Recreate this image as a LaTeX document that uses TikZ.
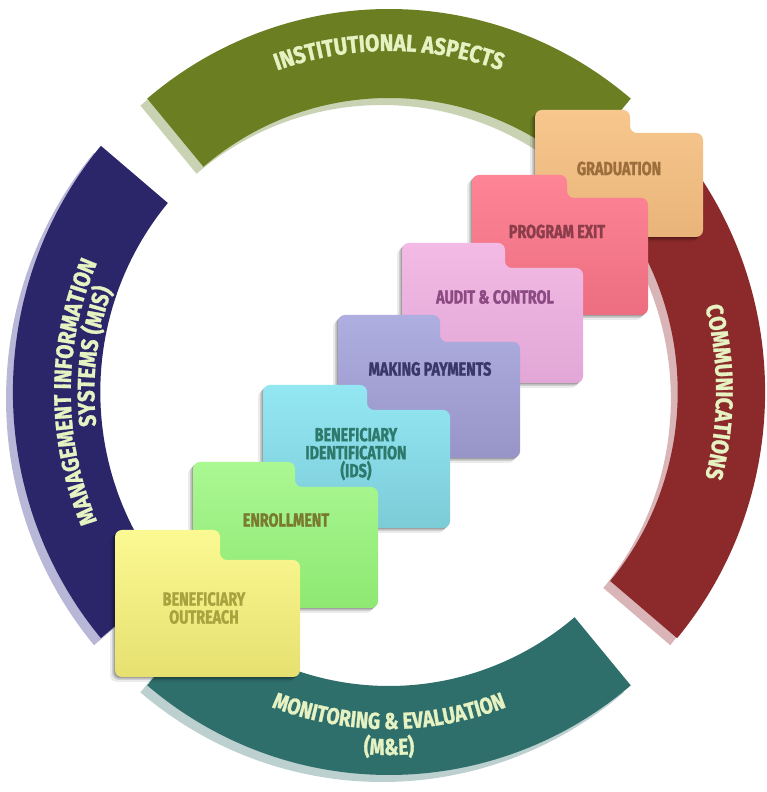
\documentclass[tikz,border=0pt]{standalone}
\usepackage{fontspec}
\usetikzlibrary{decorations.text}
\newfontfamily\bandfont{Fira Sans}[FakeStretch=0.86,FakeBold=1.2]
\newfontfamily\bandfontb{Fira Sans}[FakeStretch=0.82,FakeBold=1.2]
\newfontfamily\folderfont{Fira Sans}[FakeStretch=0.755,FakeBold=1.4]
\definecolor{bandtxt}{HTML}{E6F2C2}
\definecolor{instc}{HTML}{6B7F22}
\definecolor{instsh}{HTML}{C9D3B3}
\definecolor{misc}{HTML}{2B2569}
\definecolor{missh}{HTML}{B9B7D7}
\definecolor{comc}{HTML}{8C2A2B}
\definecolor{comsh}{HTML}{DAB5B8}
\definecolor{mec}{HTML}{2F6F6B}
\definecolor{mesh}{HTML}{BDD0D0}
% folders
\definecolor{gradA}{HTML}{F7C78E}\definecolor{gradB}{HTML}{E9B479}\definecolor{gradT}{HTML}{9B6E3C}
\definecolor{exitA}{HTML}{FE8596}\definecolor{exitB}{HTML}{EC6E80}\definecolor{exitT}{HTML}{8C3D4B}
\definecolor{audA}{HTML}{F3BAE5}\definecolor{audB}{HTML}{E2A7D6}\definecolor{audT}{HTML}{8B4A82}
\definecolor{payA}{HTML}{AEAEE1}\definecolor{payB}{HTML}{9894C8}\definecolor{payT}{HTML}{383868}
\definecolor{idsA}{HTML}{93E7F3}\definecolor{idsB}{HTML}{7CCCD8}\definecolor{idsT}{HTML}{2D7A6C}
\definecolor{enrA}{HTML}{AAF892}\definecolor{enrB}{HTML}{8EE872}\definecolor{enrT}{HTML}{7A7A2E}
\definecolor{outA}{HTML}{FBF992}\definecolor{outB}{HTML}{E6E070}\definecolor{outT}{HTML}{A9A23E}
\newcommand\bandstyle{\bandfont\bfseries\fontsize{24}{24}\selectfont\color{bandtxt}}
\newcommand\bandstyleb{\bandfontb\bfseries\fontsize{23}{23}\selectfont\color{bandtxt}}
\newcommand\bandseg[3]{%
  \fill[#3,shift={(-7,-7)}] (#1:383) arc[start angle=#1,end angle=#2,radius=383] -- (#2:294) arc[start angle=#2,end angle=#1,radius=294] -- cycle;}
\newcommand\bandmain[3]{%
  \fill[#3] (#1:383) arc[start angle=#1,end angle=#2,radius=383] -- (#2:294) arc[start angle=#2,end angle=#1,radius=294] -- cycle;}
% #1 L, #2 R, #3 tab top, #4 body top, #5 bottom, #6 tab right, #7 top colour, #8 bottom colour
\newcommand\folder[8]{%
  \foreach \dd/\op in {5/0.08,3/0.12,1.5/0.22}{%
    \fill[black,opacity=\op,rounded corners=7,shift={(-\dd,-\dd)}] (#1,#5) -- (#1,#3) -- (#6,#3) -- (#6,#4) -- (#2,#4) -- (#2,#5) -- cycle;}
  \shade[rounded corners=7,top color=#7,bottom color=#8] (#1,#5) -- (#1,#3) -- (#6,#3) -- (#6,#4) -- (#2,#4) -- (#2,#5) -- cycle;}
\begin{document}
\begin{tikzpicture}[x=1pt,y=1pt,
  ftext/.style={font=\folderfont\bfseries\fontsize{19}{18}\selectfont,align=center,inner sep=0pt}]
\useasboundingbox (0,0) rectangle (766,792);
\begin{scope}[shift={(389,400)},xscale=0.982]
  \bandseg{50}{130}{instsh}
  \bandseg{140}{220}{missh}
  \bandseg{230}{310}{mesh}
  \bandseg{-40}{40}{comsh}
  \bandmain{50}{130}{instc}
  \bandmain{140}{220}{misc}
  \bandmain{230}{310}{mec}
  \bandmain{-40}{40}{comc}
  \path[decorate,decoration={text along path,text align=center,
    text={|\bandstyle|INSTITUTIONAL ASPECTS}}]
    (150:341) arc[start angle=150,end angle=30,radius=341];
  \path[decorate,decoration={text along path,text align=center,
    text={|\bandstyle|COMMUNICATIONS}}]
    (70:333) arc[start angle=70,end angle=-70,radius=333];
  \path[decorate,decoration={text along path,text align=center,
    text={|\bandstyle|MANAGEMENT INFORMATION}}]
    (240:324) arc[start angle=240,end angle=120,radius=324];
  \path[decorate,decoration={text along path,text align=left,
    text={|\bandstyle|SYSTEMS (MIS)}}]
    (186.5:300) arc[start angle=186.5,end angle=110,radius=300];
  \path[decorate,decoration={text along path,text align=center,
    text={|\bandstyleb|MONITORING {\&} EVALUATION}}]
    (200:337) arc[start angle=200,end angle=340,radius=337];
  \path[decorate,decoration={text along path,text align=center,
    text={|\bandstyleb|(M{\&}E)}}]
    (220:363) arc[start angle=220,end angle=320,radius=363];
\end{scope}
% folders, from the top one down
\folder{535}{703}{682}{659}{555}{630}{gradA}{gradB}
\node[ftext,text=gradT] (grad) at (619,623.5) {GRADUATION};
\folder{472}{648}{617}{594}{477}{567}{exitA}{exitB}
\node[ftext,text=exitT] (exit) at (557,560.5) {PROGRAM EXIT};
\folder{402}{583}{549}{524}{409}{505}{audA}{audB}
\node[ftext,text=audT] (audit) at (495,495) {AUDIT \& CONTROL};
\folder{338}{520}{477}{450}{334}{440}{payA}{payB}
\node[ftext,text=payT] (pay) at (430,423) {MAKING PAYMENTS};
\folder{263}{450}{407}{382}{264}{367}{idsA}{idsB}
\node[ftext,text=idsT] (ids) at (356,338) {BENEFICIARY\\IDENTIFICATION\\(IDS)};
\folder{193}{378}{330}{305}{184}{295}{enrA}{enrB}
\node[ftext,text=enrT] (enr) at (286,272) {ENROLLMENT};
\folder{115}{300}{262}{232}{115}{220}{outA}{outB}
\node[ftext,text=outT] (out) at (204,184) {BENEFICIARY\\OUTREACH};
\end{tikzpicture}
\end{document}
